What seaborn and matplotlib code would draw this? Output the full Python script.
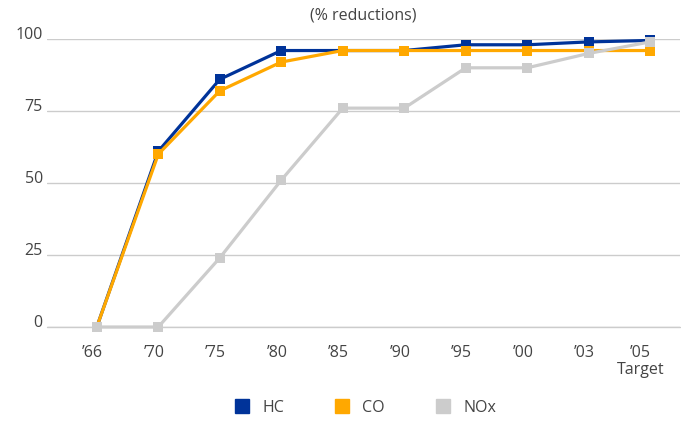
import pandas as pd
import seaborn as sns
import matplotlib.pyplot as plt
import matplotlib.transforms as mtrans
from matplotlib.lines import Line2D

# data
years = ["’66", "’70", "’75", "’80", "’85", "’90", "’95", "’00", "’03", "’05\nTarget"]
hc = [0, 61, 86, 96, 96, 96, 98, 98, 99, 99.5]
co = [0, 60, 82, 92, 96, 96, 96, 96, 96, 96]
nox = [0, 0, 24, 51, 76, 76, 90, 90, 95, 99]
series = ["HC", "CO", "NOx"]
colors = ["#003399", "#FFA800", "#CCCCCC"]

df = pd.DataFrame({"year": years, "HC": hc, "CO": co, "NOx": nox})
long_df = df.melt(id_vars="year", var_name="pollutant", value_name="reduction")
long_df["pos"] = long_df["year"].map({y: i for i, y in enumerate(years)})

sns.set_style("white")
plt.rcParams["font.family"] = ["Open Sans", "DejaVu Sans"]

fig = plt.figure(figsize=(6.81, 4.25), dpi=100)
ax = fig.add_axes([0.069, 0.2306, 0.93, 0.6776])

sns.lineplot(data=long_df, x="pos", y="reduction", hue="pollutant",
             hue_order=series, palette=colors, marker="s", markersize=7.5,
             markeredgewidth=0, linewidth=2.3, legend=False, ax=ax, clip_on=False)

ax.set_xlim(-0.81, 9.49)
ax.set_ylim(0, 100)
ax.set_xticks(range(len(years)))
ax.set_xticklabels(years, va="top", ha="center", linespacing=1.05)
ax.set_yticks([0, 25, 50, 75, 100])
plt.setp(ax.get_yticklabels(), va="baseline")
ax.tick_params(axis="both", length=0, labelsize=11.5, labelcolor="#444444")
ax.tick_params(axis="x", pad=13)
ax.tick_params(axis="y", pad=3)
xlabels = ax.get_xticklabels()
for i, lbl in enumerate(xlabels):
    dx = -10 if i == len(xlabels) - 1 else -4
    lbl.set_transform(lbl.get_transform() + mtrans.ScaledTranslation(dx / 100, 0, fig.dpi_scale_trans))
ax.yaxis.grid(True, color="#cccccc", linewidth=1)
ax.axhline(0, color="#cccccc", linewidth=1, zorder=0, clip_on=False)
ax.set_axisbelow(True)
ax.set_xlabel("")
ax.set_ylabel("")
sns.despine(ax=ax, left=True, top=True, right=True, bottom=True)

ax.set_title("(% reductions)", fontsize=11.5, color="#444444", pad=14)

handles = [Line2D([], [], marker="s", linestyle="", color=c, markersize=10) for c in colors]
fig.legend(handles, series, loc="center", bbox_to_anchor=(0.53, 0.04), ncol=3,
           frameon=False, fontsize=11.5, handletextpad=0.3, columnspacing=2.6,
           labelcolor="#444444")

fig.savefig("out.png", dpi=100)
